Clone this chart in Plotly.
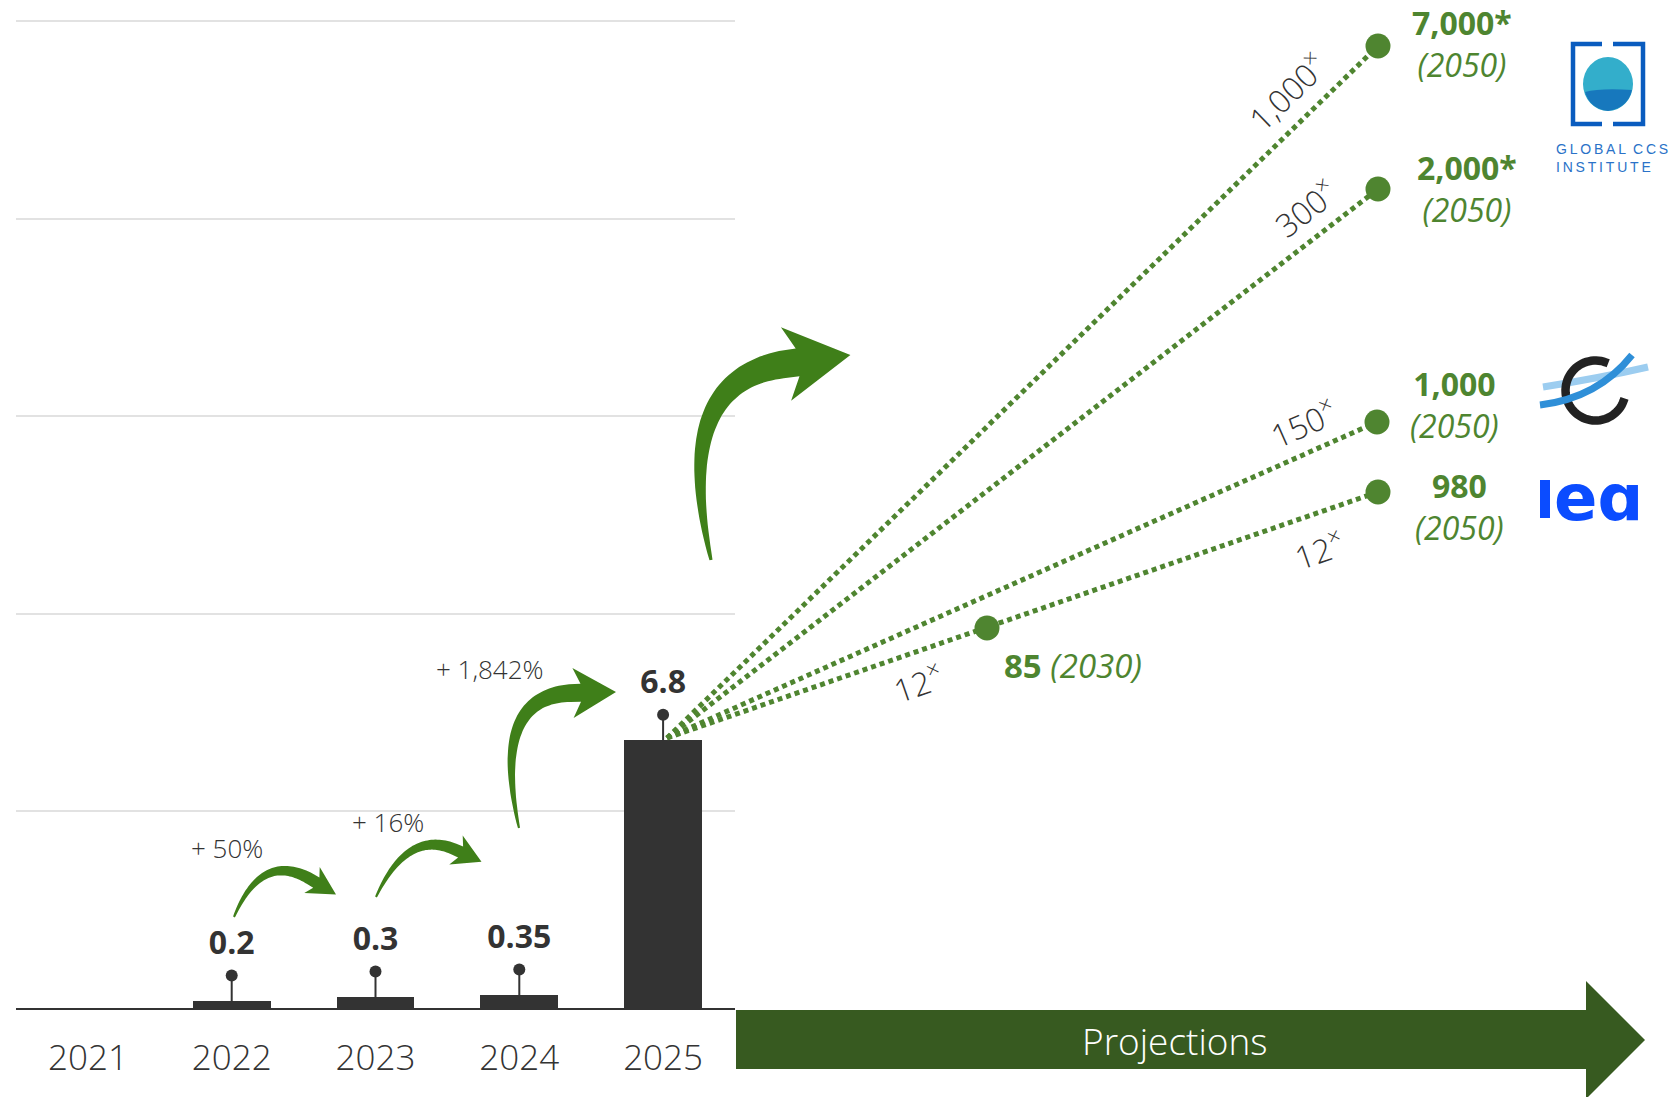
import numpy as np
import plotly.graph_objects as go

# ---------------- data ----------------
years = ["2021", "2022", "2023", "2024", "2025"]
capacity = [None, 0.2, 0.3, 0.35, 6.8]
value_labels = ["", "0.2", "0.3", "0.35", "6.8"]
growth_labels = ["+ 50%", "+ 16%", "+ 1,842%"]

proj_values = ["7,000*", "2,000*", "1,000", "980"]
proj_years = ["(2050)", "(2050)", "(2050)", "(2050)"]
proj_multipliers = ["1,000", "300", "150", "12"]
mid_value = "85"
mid_year = "(2030)"
mid_multiplier = "12"

# ---------------- style / layout constants ----------------
W, H = 1680, 1097
DARK = "#333333"
GREEN_TXT = "#4e8530"
GREEN_DOT = "#4f8530"
GREEN_ARROW = "#3f7f19"
GREEN_BAND = "#375a20"
FONT = "Open Sans"
PIN = 0.65
LABEL_OFF = 1.4
Y_MAX = 25.1

# illustrative overlay positions (pixel canvas)
ORIGIN = (667, 738)
proj_pos = [(1378, 46), (1378, 189), (1377, 422), (1378, 492)]
mid_pos = (987, 628)
proj_label_pos = [(1462, 43), (1467, 188), (1454, 404), (1459, 506)]
mult_pos = [(1286, 91, -44), (1305, 207, -38), (1303, 422, -24), (1318, 549, -19)]
mid_mult_pos = (917, 682, -19)

fig = go.Figure()

# bars
fig.add_trace(go.Bar(x=years, y=capacity, width=0.54, marker=dict(color=DARK, line=dict(width=0)),
                     hoverinfo="skip", xaxis="x", yaxis="y"))

# pins
px_, py_ = [], []
for yr, v in zip(years, capacity):
    if v is not None:
        px_.append(yr)
        py_.append(v + PIN)
fig.add_trace(go.Scatter(x=px_, y=py_, mode="markers", marker=dict(size=12, color=DARK),
                         error_y=dict(type="data", symmetric=False, array=[0] * len(py_),
                                      arrayminus=[PIN] * len(py_), thickness=2, width=0, color=DARK),
                         hoverinfo="skip", xaxis="x", yaxis="y"))
# value labels
lx, ly, lt = [], [], []
for yr, v, t in zip(years, capacity, value_labels):
    if v is not None:
        lx.append(yr); ly.append(v + LABEL_OFF); lt.append(t)
fig.add_trace(go.Scatter(x=lx, y=ly, mode="text", text=lt, textposition="middle center",
                         textfont=dict(family=FONT, size=32, color=DARK, weight=700),
                         hoverinfo="skip", xaxis="x", yaxis="y"))

# projection dotted lines (overlay canvas)
for i, p in enumerate(proj_pos):
    xs = [ORIGIN[0], p[0]]
    ys = [ORIGIN[1], p[1]]
    fig.add_trace(go.Scatter(x=xs, y=ys, mode="lines",
                             line=dict(color=GREEN_DOT, width=5, dash="5px,4px"),
                             hoverinfo="skip", xaxis="x2", yaxis="y2"))
fig.add_trace(go.Scatter(x=[p[0] for p in proj_pos] + [mid_pos[0]],
                         y=[p[1] for p in proj_pos] + [mid_pos[1]],
                         mode="markers", marker=dict(size=25, color=GREEN_DOT),
                         hoverinfo="skip", xaxis="x2", yaxis="y2"))

shapes = []


def curved_arrow(p0, p1, p2, w0, w1, head_len, head_hw, color, n=50):
    t = np.linspace(0, 1, n)
    P0, P1, P2 = map(np.array, (p0, p1, p2))
    pts = ((1 - t) ** 2)[:, None] * P0 + (2 * (1 - t) * t)[:, None] * P1 + (t ** 2)[:, None] * P2
    d = (2 * (1 - t))[:, None] * (P1 - P0) + (2 * t)[:, None] * (P2 - P1)
    d = d / np.linalg.norm(d, axis=1)[:, None]
    nrm = np.stack([-d[:, 1], d[:, 0]], axis=1)
    w = (w0 + (w1 - w0) * t ** 0.8) / 2
    left = pts + nrm * w[:, None]
    right = pts - nrm * w[:, None]
    notch = d[-1] * head_len * 0.18
    left[-1] = left[-1] + notch
    right[-1] = right[-1] + notch
    tip = P2 + d[-1] * head_len
    hl = P2 + nrm[-1] * head_hw
    hr = P2 - nrm[-1] * head_hw
    poly = list(left) + [hl, tip, hr] + list(right[::-1])
    path = "M " + " L ".join(f"{x:.1f},{y:.1f}" for x, y in poly) + " Z"
    return dict(type="path", path=path, xref="x2", yref="y2", fillcolor=color,
                line=dict(width=0), layer="above")


shapes.append(curved_arrow((234, 917), (262, 850), (312, 880), 2, 12, 28, 15, GREEN_ARROW))
shapes.append(curved_arrow((376, 897), (408, 828), (456, 850), 2, 12, 28, 16, GREEN_ARROW))
shapes.append(curved_arrow((519, 828), (490, 695), (573, 693), 2, 18, 43, 25, GREEN_ARROW))
shapes.append(curved_arrow((711, 560), (670, 380), (786, 364), 3, 28, 65, 37, GREEN_ARROW))

# Projections band arrow
shapes.append(dict(type="path", xref="x2", yref="y2",
                   path="M 736,1010 L 1586,1010 L 1586,981 L 1645,1040 L 1586,1099 L 1586,1069 L 736,1069 Z",
                   fillcolor=GREEN_BAND, line=dict(width=0), layer="above"))

# ---- logos (decorative) ----
BLUE_CCS = "#0a5cbf"
shapes.append(dict(type="path", xref="x2", yref="y2", path="M 1602,44 L 1573,44 L 1573,124 L 1602,124",
                   line=dict(color=BLUE_CCS, width=4.5), layer="above"))
shapes.append(dict(type="path", xref="x2", yref="y2", path="M 1613,44 L 1643,44 L 1643,124 L 1613,124",
                   line=dict(color=BLUE_CCS, width=4.5), layer="above"))
shapes.append(dict(type="circle", xref="x2", yref="y2", x0=1583, x1=1633, y0=57, y1=111,
                   fillcolor="#33aecb", line=dict(width=0), layer="above"))
shapes.append(dict(type="path", xref="x2", yref="y2",
                   path="M 1585,92 Q 1600,88 1632,90 Q 1628,108 1608,111 Q 1590,109 1585,92 Z",
                   fillcolor="#0f66b8", opacity=0.75, line=dict(width=0), layer="above"))

# C-shaped logo
shapes.append(dict(type="path", xref="x2", yref="y2", path="M 1543,387 Q 1600,378 1648,367",
                   line=dict(color="#9ccdf0", width=7), layer="above"))
ang = np.radians(np.linspace(65, 345, 60))
cpts = [(1595.5 + 30 * np.cos(a), 390.5 - 30 * np.sin(a)) for a in ang]
shapes.append(dict(type="path", xref="x2", yref="y2",
                   path="M " + " L ".join(f"{x:.1f},{y:.1f}" for x, y in cpts),
                   line=dict(color="#222222", width=8.5), layer="above"))
shapes.append(dict(type="path", xref="x2", yref="y2", path="M 1540,405 Q 1598,398 1632,355",
                   line=dict(color="#2f8fd8", width=7), layer="above"))

# iea
shapes.append(dict(type="rect", xref="x2", yref="y2", x0=1540, x1=1550, y0=480, y1=518,
                   fillcolor="#0b4cff", line=dict(width=0), layer="above"))

annotations = []
# growth labels
growth_pos = [(227, 848), (388, 822), (490, 669)]
for txt, (x, y) in zip(growth_labels, growth_pos):
    annotations.append(dict(x=x, y=y, xref="x2", yref="y2", text=txt, showarrow=False,
                            font=dict(family=FONT, size=26, color=DARK, weight=300)))
# projection labels
for v, yr, (x, y) in zip(proj_values, proj_years, proj_label_pos):
    annotations.append(dict(x=x, y=y, xref="x2", yref="y2",
                            text=f"<b>{v}</b><br><i>{yr}</i>", showarrow=False,
                            font=dict(family=FONT, size=32, color=GREEN_TXT)))
annotations.append(dict(x=1002, y=665, xref="x2", yref="y2", xanchor="left",
                        text=f"<b>{mid_value}</b> <i>{mid_year}</i>", showarrow=False,
                        font=dict(family=FONT, size=33, color=GREEN_TXT)))
# multipliers
for m, (x, y, a) in zip(proj_multipliers, mult_pos):
    annotations.append(dict(x=x, y=y, xref="x2", yref="y2", text=f"{m}<sup>×</sup>", showarrow=False,
                            textangle=a, font=dict(family=FONT, size=32, color=DARK, weight=300)))
annotations.append(dict(x=mid_mult_pos[0], y=mid_mult_pos[1], xref="x2", yref="y2",
                        text=f"{mid_multiplier}<sup>×</sup>", showarrow=False, textangle=mid_mult_pos[2],
                        font=dict(family=FONT, size=32, color=DARK, weight=300)))
# Projections
annotations.append(dict(x=1175, y=1040, xref="x2", yref="y2", text="Projections", showarrow=False,
                        font=dict(family=FONT, size=37, color="white", weight=300)))
# logo texts
ts = "\u2009"
annotations.append(dict(x=1554, y=158, xref="x2", yref="y2", xanchor="left", align="left",
                        text=ts.join("GLOBAL") + "\u2002" + ts.join("CCS") + "<br>" + ts.join("INSTITUTE"),
                        showarrow=False,
                        font=dict(family="Liberation Sans", size=14, color="#2a72c8")))
annotations.append(dict(x=1552, y=498, xref="x2", yref="y2", xanchor="left",
                        text="<b>eɑ</b>", showarrow=False,
                        font=dict(family="DejaVu Sans", size=64, color="#0b4cff")))

x0d, x1d = 16 / W, 735 / W
px_per_unit = (1009 - 21.4) / 25
y0d, y1d = 1 - 1009 / H, 1 - (1009 - Y_MAX * px_per_unit) / H

fig.update_layout(
    width=W, height=H, margin=dict(l=0, r=0, t=0, b=0),
    paper_bgcolor="white", plot_bgcolor="rgba(0,0,0,0)", showlegend=False,
    bargap=0, shapes=shapes, annotations=annotations,
    xaxis=dict(domain=[x0d, x1d], range=[-0.5, 4.5], type="category", showgrid=False,
               showline=False, zeroline=False, ticks="outside", ticklen=18,
               tickcolor="rgba(0,0,0,0)", automargin=False,
               tickfont=dict(family=FONT, size=35, color=DARK, weight=300)),
    yaxis=dict(domain=[y0d, y1d], range=[0, Y_MAX], tickvals=[5, 10, 15, 20, 25], showticklabels=False,
               showgrid=True, gridcolor="#e2e2e2", gridwidth=2, zeroline=True,
               zerolinecolor=DARK, zerolinewidth=2, showline=False, automargin=False),
    xaxis2=dict(domain=[0, 1], range=[0, W], anchor="y2", visible=False, fixedrange=True),
    yaxis2=dict(domain=[0, 1], range=[H, 0], anchor="x2", visible=False, fixedrange=True),
)

fig.write_html("out.html")
